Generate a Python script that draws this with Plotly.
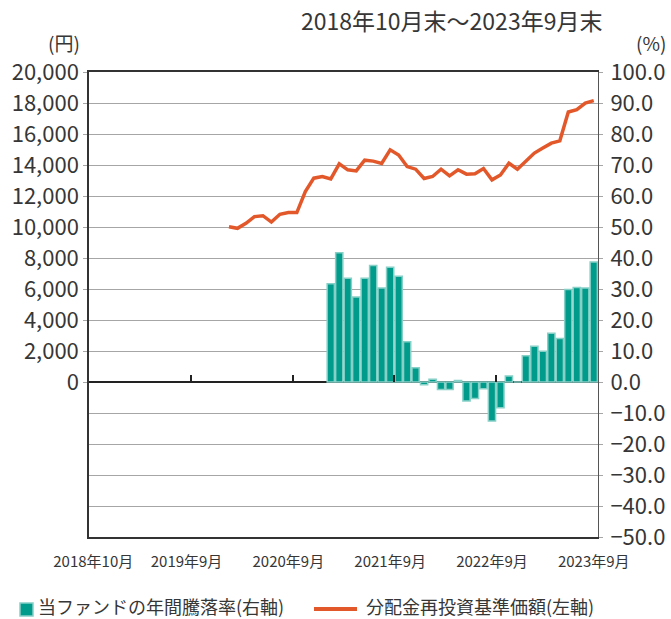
import plotly.graph_objects as go
import pandas as pd

# ---- data ----
months = [d.strftime("%Y-%m") for d in pd.date_range("2018-10-01", "2023-09-01", freq="MS")]

nav_months = months[16:]   # 2020-02 .. 2023-09
nav_values = [10020, 9915, 10240, 10670, 10730, 10320, 10820, 10930, 10930, 12290,
              13150, 13260, 13100, 14075, 13690, 13620, 14310, 14250, 14100, 14980,
              14640, 13900, 13730, 13130, 13260, 13730, 13300, 13690, 13410, 13430,
              13770, 13040, 13360, 14120, 13730, 14230, 14770, 15090, 15410, 15560,
              17420, 17570, 18000, 18150]

ret_months = months[28:]   # 2021-02 .. 2023-09
ret_values = [31.7, 41.7, 33.5, 27.4, 33.5, 37.6, 30.3, 37.0, 34.1, 13.0,
              4.6, -0.9, 0.9, -2.4, -2.4, 0.5, -6.1, -5.3, -2.2, -12.6,
              -8.3, 1.9, 0.0, 8.5, 11.5, 9.9, 15.7, 14.0, 29.8, 30.5,
              30.3, 38.7]

xtick_vals = ["2018-10", "2019-09", "2020-09", "2021-09", "2022-09", "2023-09"]
xtick_text = ["2018年10月", "2019年9月", "2020年9月", "2021年9月", "2022年9月", "2023年9月"]

left_ticks = list(range(0, 20001, 2000))
right_ticks = list(range(-50, 101, 10))

title_text = "2018年10月末～2023年9月末"
bar_name = "当ファンドの年間騰落率(右軸)"
line_name = "分配金再投資基準価額(左軸)"

# ---- style ----
W, H = 671, 619
L, R, T, B = 89, 73, 72, 82
PW, PH = W - L - R, H - T - B
FONT = "Noto Sans CJK JP, Noto Sans, sans-serif"
TXT = "#363636"
TEAL = "#009B8A"
TEAL_LIGHT = "#86D0C7"
ORANGE = "#E3582A"
GRID = "#A6A6A6"

def px(x):
    return (x - L) / PW

def py(y):
    return (H - B - y) / PH

fig = go.Figure()

fig.add_trace(go.Bar(
    x=ret_months, y=ret_values, name=bar_name,
    marker=dict(color=TEAL, line=dict(color=TEAL_LIGHT, width=1.5)),
    xaxis="x", yaxis="y", showlegend=False,
))
fig.add_trace(go.Scatter(
    x=nav_months, y=nav_values, name=line_name, mode="lines",
    line=dict(color=ORANGE, width=3.5),
    xaxis="x", yaxis="y2", showlegend=False,
))
# helper trace for the zero-line tick axis
fig.add_trace(go.Scatter(x=[None], y=[None], xaxis="x2", yaxis="y", showlegend=False, hoverinfo="skip"))

fig.update_layout(
    width=W, height=H,
    margin=dict(l=L, r=R, t=T, b=B, autoexpand=False),
    paper_bgcolor="white", plot_bgcolor="white",
    font=dict(family=FONT, size=22, color=TXT),
    bargap=0.15,
    xaxis=dict(
        type="category", categoryorder="array", categoryarray=months,
        range=[-0.5, len(months) - 0.5], automargin=False,
        tickmode="array", tickvals=xtick_vals, ticktext=xtick_text,
        tickfont=dict(size=15, color=TXT), tickangle=0,
        ticks="outside", ticklen=10, tickcolor="rgba(0,0,0,0)",
        showgrid=False, showline=True, linecolor="#333333", linewidth=1.5,
        mirror=True, zeroline=False,
    ),
    xaxis2=dict(
        overlaying="x", anchor="free", position=1/3, side="bottom",
        range=[-0.5, len(months) - 0.5], automargin=False,
        tickmode="array", tickvals=[11.5, 23.5, 35.5, 47.5],
        ticks="inside", ticklen=7, tickwidth=1.5, tickcolor="#222222",
        showticklabels=False, showgrid=False, showline=False, zeroline=False,
    ),
    yaxis=dict(
        side="right", range=[-50, 100], automargin=False,
        tickmode="array", tickvals=right_ticks,
        tickformat=".1f", tickfont=dict(size=22, color=TXT),
        ticks="outside", ticklen=4, tickcolor=GRID, ticklabelstandoff=3,
        showgrid=True, gridcolor=GRID, gridwidth=1,
        zeroline=True, zerolinecolor="#222222", zerolinewidth=1.5,
        showline=True, linecolor="#555555", linewidth=1,
    ),
    yaxis2=dict(
        overlaying="y", side="left", range=[-10000, 20000], automargin=False,
        tickmode="array", tickvals=left_ticks,
        tickformat=",", tickfont=dict(size=22, color=TXT),
        ticks="outside", ticklen=4, tickcolor=GRID,
        showgrid=False, zeroline=False,
        showline=True, linecolor="#333333", linewidth=1.5,
    ),
    annotations=[
        dict(text=title_text, x=px(451), y=py(20), xref="paper", yref="paper",
             xanchor="center", yanchor="middle", showarrow=False,
             font=dict(size=23, color=TXT)),
        dict(text="(円)", x=px(64), y=py(42), xref="paper", yref="paper",
             xanchor="center", yanchor="middle", showarrow=False, borderpad=0,
             font=dict(size=19, color=TXT)),
        dict(text="(%)", x=px(651), y=py(42), xref="paper", yref="paper",
             xanchor="center", yanchor="middle", showarrow=False, borderpad=0,
             font=dict(size=19, color=TXT)),
        dict(text=bar_name, x=px(37), y=py(606), xref="paper", yref="paper",
             xanchor="left", yanchor="middle", showarrow=False, borderpad=0,
             font=dict(size=18, color=TXT)),
        dict(text=line_name, x=px(365), y=py(606), xref="paper", yref="paper",
             xanchor="left", yanchor="middle", showarrow=False, borderpad=0,
             font=dict(size=18, color=TXT)),
    ],
    shapes=[
        dict(type="rect", xref="paper", yref="paper",
             x0=px(20), x1=px(33), y0=py(616), y1=py(603),
             fillcolor=TEAL, line=dict(color=TEAL_LIGHT, width=1.5)),
        dict(type="line", xref="paper", yref="paper",
             x0=px(314), x1=px(357), y0=py(609), y1=py(609),
             line=dict(color=ORANGE, width=4)),
    ],
)

fig.write_html(
    "out.html",
    config={"displayModeBar": False},
    post_script="document.body.style.margin='0';document.body.style.padding='0';document.body.style.overflow='hidden';",
)
